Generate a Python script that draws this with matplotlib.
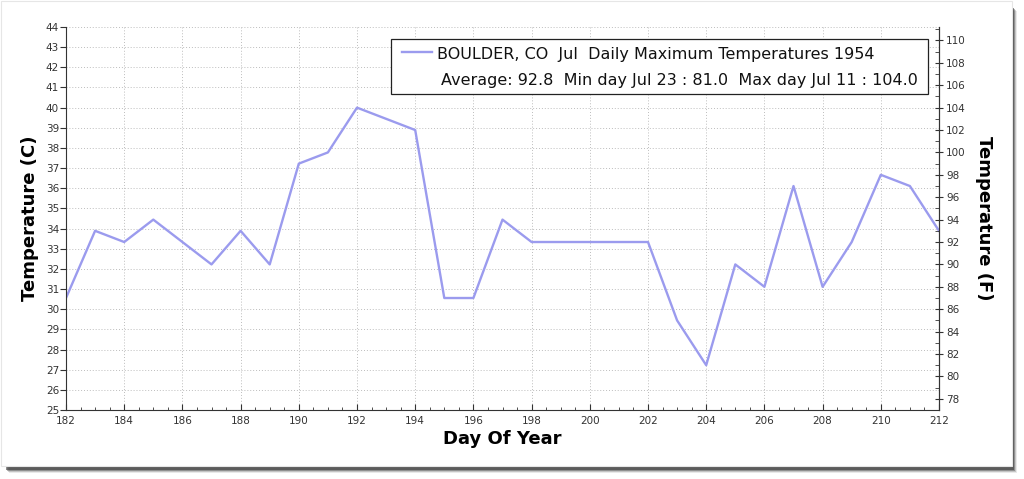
import numpy as np
import matplotlib
matplotlib.use('Agg')
import matplotlib.pyplot as plt
from matplotlib.patches import Rectangle
from matplotlib.lines import Line2D
from matplotlib.ticker import MultipleLocator

# daily max temps, Boulder CO, July 1954 (deg F)
days = list(range(182, 213))
temp_f = [87, 93, 92, 94, 92, 90, 93, 90, 99, 100, 104, 103, 102, 87, 87, 94,
          92, 92, 92, 92, 92, 85, 81, 90, 88, 97, 88, 92, 98, 97, 93]
legend_title = 'BOULDER, CO  Jul  Daily Maximum Temperatures 1954'
legend_stats = 'Average: 92.8  Min day Jul 23 : 81.0  Max day Jul 11 : 104.0'

temp_c = [(t - 32) * 5.0 / 9.0 for t in temp_f]
line_col = '#9b9bee'

fig = plt.figure(figsize=(10.24, 4.79), dpi=100)
W, H = 1024.0, 479.0

def fx(px):
    return px / W

def fy(py):
    return 1 - py / H

# page with drop shadow (screenshot frame)
for k, a in enumerate([0.55, 0.35, 0.2, 0.1]):
    fig.patches.append(Rectangle((fx(6 + k), fy(470 + k)), fx(1008), 462 / H,
                                 transform=fig.transFigure, facecolor='#303030',
                                 edgecolor='none', alpha=a, zorder=0))
fig.patches.append(Rectangle((fx(1), fy(466)), fx(1011), 465 / H,
                             transform=fig.transFigure, facecolor='white',
                             edgecolor='#e6e6e6', lw=0.8, zorder=1))

ax = fig.add_axes([fx(66), fy(410), fx(939 - 66), (410 - 27) / H])
ax.set_zorder(3)
ax.patch.set_alpha(0)

line, = ax.plot(days, temp_c, color=line_col, lw=1.7)

ax.set_xlim(182, 212)
ax.set_ylim(25, 44)
ax.xaxis.set_major_locator(MultipleLocator(2))
ax.xaxis.set_minor_locator(MultipleLocator(0.5))
ax.yaxis.set_major_locator(MultipleLocator(1))
ax.grid(True, which='major', color='#bdbdbd', ls=(0, (1, 2)), lw=0.7)
ax.tick_params(axis='y', which='major', labelsize=7.5, length=4, color='#333333',
               labelcolor='#333333', pad=1)
ax.tick_params(axis='x', which='major', labelsize=7.5, length=4, color='#333333',
               labelcolor='#333333', pad=4, direction='in')
ax.tick_params(axis='x', which='minor', length=2, color='#333333', direction='in')
ax.spines['top'].set_visible(False)
for s in ['left', 'bottom', 'right']:
    ax.spines[s].set_color('#333333')

ax.set_ylabel('Temperature (C)', fontsize=13, fontweight='bold', labelpad=5)
ax.set_xlabel('Day Of Year', fontsize=13, fontweight='bold', labelpad=3)

ax2 = ax.twinx()
ax2.set_ylim(25 * 9 / 5 + 32, 44 * 9 / 5 + 32)
ax2.yaxis.set_major_locator(MultipleLocator(2))
ax2.yaxis.set_minor_locator(MultipleLocator(1))
ax2.tick_params(axis='y', which='major', labelsize=7.5, length=6, direction='inout',
                color='#333333', labelcolor='#333333', pad=2)
ax2.tick_params(axis='y', which='minor', length=3, direction='in', color='#333333')
for s in ['top', 'left', 'bottom']:
    ax2.spines[s].set_visible(False)
ax2.spines['right'].set_color('#333333')
ax2.set_ylabel('Temperature (F)', fontsize=13, fontweight='bold', rotation=270,
               labelpad=20)

# legend box drawn by hand: title row left, stats row right-aligned
fig.patches.append(Rectangle((fx(391), fy(94)), fx(928 - 391), 55 / H,
                             transform=fig.transFigure, facecolor='white',
                             edgecolor='#222222', lw=0.9, zorder=5))
fig.lines.append(Line2D([fx(402), fx(432)], [fy(52), fy(52)], transform=fig.transFigure,
                        color=line_col, lw=1.7, zorder=6))
fig.text(fx(437), fy(54), legend_title, fontsize=11.5, color='#111111',
         ha='left', va='center', zorder=6)
fig.text(fx(918), fy(81), legend_stats, fontsize=11.5, color='#111111',
         ha='right', va='center', zorder=6)

fig.savefig('out.png', dpi=100)
